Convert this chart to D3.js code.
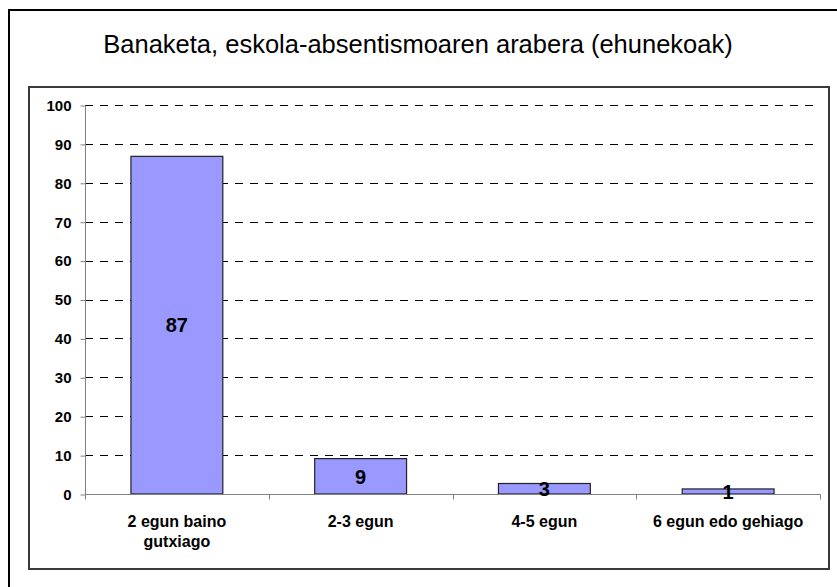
<!DOCTYPE html>
<html>
<head>
<meta charset="utf-8">
<script src="https://cdn.jsdelivr.net/npm/d3@7"></script>
<style>
  html, body { margin: 0; padding: 0; background: #fff; }
  svg { display: block; }
  text { font-family: "Liberation Sans", Arial, sans-serif; }
</style>
</head>
<body>
<script>
const title = "Banaketa, eskola-absentismoaren arabera (ehunekoak)";
const categories = ["2 egun baino gutxiago", "2-3 egun", "4-5 egun", "6 egun edo gehiago"];
const categoryLines = [["2 egun baino", "gutxiago"], ["2-3 egun"], ["4-5 egun"], ["6 egun edo gehiago"]];
const values = [86.8, 9.1, 2.7, 1.3];
const valueLabels = ["87", "9", "3", "1"];
const yTicks = [0, 10, 20, 30, 40, 50, 60, 70, 80, 90, 100];

const W = 837, H = 587;
const svg = d3.select("body").append("svg").attr("width", W).attr("height", H);
svg.append("rect").attr("width", W).attr("height", H).attr("fill", "#fff");

// outer frame (left + top edges visible)
svg.append("path").attr("d", `M9,${H} L9,10 L${W},10`).attr("fill", "none").attr("stroke", "#000").attr("stroke-width", 2);

// title
svg.append("text").attr("x", 418).attr("y", 53).attr("text-anchor", "middle")
  .attr("font-size", 25.5).attr("fill", "#000").text(title);

// inner plot frame
svg.append("rect").attr("x", 29).attr("y", 87).attr("width", 800).attr("height", 482)
  .attr("fill", "#fff").attr("stroke", "#3a3a3a").attr("stroke-width", 2);

const x = d3.scaleBand().domain(categories).range([85, 820]).paddingInner(0.5).paddingOuter(0.25);
const y = d3.scaleLinear().domain([0, 100]).range([494, 105]);

// gridlines
svg.append("g").selectAll("line").data(yTicks.filter(d => d > 0)).join("line")
  .attr("x1", 85).attr("x2", 820)
  .attr("y1", d => Math.round(y(d)) + 0.5).attr("y2", d => Math.round(y(d)) + 0.5)
  .attr("stroke", "#000").attr("stroke-width", 1).attr("stroke-dasharray", "8,7");

// y axis
const yAxis = svg.append("g").attr("transform", "translate(85.5,0.5)")
  .call(d3.axisLeft(y).tickValues(yTicks).tickSize(5).tickPadding(9).tickFormat(d3.format("d")));
yAxis.select(".domain").attr("stroke", "#808080").attr("d", `M0,${y(100)}V${y(0)}`);
yAxis.selectAll(".tick line").attr("stroke", "#808080");
yAxis.selectAll(".tick text").attr("font-size", 15).attr("font-weight", "bold").attr("fill", "#000")
  .attr("font-family", "'Liberation Sans', Arial, sans-serif");

// bars
svg.append("g").selectAll("rect").data(values).join("rect")
  .attr("x", (d, i) => x(categories[i]))
  .attr("y", d => y(d))
  .attr("width", x.bandwidth())
  .attr("height", d => y(0) - y(d))
  .attr("fill", "#9999ff").attr("stroke", "#222").attr("stroke-width", 1.2);

// x axis
const xb = d3.scaleLinear().domain([0, 4]).range([85, 820]);
const xAxis = svg.append("g").attr("transform", `translate(0.5,${Math.round(y(0)) + 0.5})`);
xAxis.append("line").attr("x1", 85).attr("x2", 820).attr("stroke", "#808080");
xAxis.selectAll("line.t").data([0, 1, 2, 3, 4]).join("line").attr("class", "t")
  .attr("x1", d => Math.round(xb(d))).attr("x2", d => Math.round(xb(d)))
  .attr("y1", 0).attr("y2", 5).attr("stroke", "#808080");

// x labels
const xl = svg.append("g").selectAll("text").data(categories).join("text")
  .attr("x", d => x(d) + x.bandwidth() / 2)
  .attr("y", 527).attr("text-anchor", "middle")
  .attr("font-size", 16).attr("font-weight", "bold").attr("fill", "#000");
xl.each(function (d, i) {
  d3.select(this).selectAll("tspan").data(categoryLines[i]).join("tspan")
    .attr("x", x(d) + x.bandwidth() / 2)
    .attr("dy", (t, j) => j === 0 ? 0 : 20)
    .text(t => t);
});

// value labels
svg.append("g").selectAll("text").data(values).join("text")
  .attr("x", (d, i) => x(categories[i]) + x.bandwidth() / 2)
  .attr("y", d => (y(d) + y(0)) / 2)
  .attr("dy", "0.36em").attr("text-anchor", "middle")
  .attr("font-size", 20).attr("font-weight", "bold").attr("fill", "#000")
  .text((d, i) => valueLabels[i]);
</script>
</body>
</html>
